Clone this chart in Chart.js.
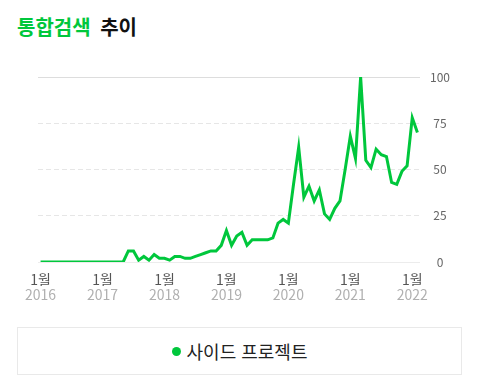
<!DOCTYPE html>
<html lang="ko">
<head>
<meta charset="utf-8">
<script src="https://cdn.jsdelivr.net/npm/chart.js@4/dist/chart.umd.min.js"></script>
<style>
  html, body { margin: 0; padding: 0; background: #fff; }
  body { width: 480px; height: 391px; position: relative; overflow: hidden; font-family: "Noto Sans CJK KR", "Noto Sans", sans-serif; }
  #title { position: absolute; left: 17px; top: 12px; font-size: 20px; font-weight: bold; line-height: 30px; white-space: nowrap; }
  #title .g { color: #00c73c; margin-right: 4px; }
  #title .k { color: #111; }
  #wrap { position: absolute; left: 0; top: 0; width: 480px; height: 310px; }
  #legend { position: absolute; left: 17px; top: 327px; width: 445px; height: 48px; box-sizing: border-box; border: 1px solid #e9e9e9; display: flex; align-items: center; justify-content: center; font-size: 18px; color: #222; }
  #legend .dot { width: 9px; height: 9px; border-radius: 50%; background: #00c73c; margin-right: 6px; margin-top: 1px; }
</style>
</head>
<body>
<div id="title"><span class="g">통합검색</span> <span class="k">추이</span></div>
<div id="wrap"><canvas id="c"></canvas></div>
<div id="legend"></div>
<script>
const categories = [
  "2016.01","2016.02","2016.03","2016.04","2016.05","2016.06","2016.07","2016.08","2016.09","2016.10","2016.11","2016.12",
  "2017.01","2017.02","2017.03","2017.04","2017.05","2017.06","2017.07","2017.08","2017.09","2017.10","2017.11","2017.12",
  "2018.01","2018.02","2018.03","2018.04","2018.05","2018.06","2018.07","2018.08","2018.09","2018.10","2018.11","2018.12",
  "2019.01","2019.02","2019.03","2019.04","2019.05","2019.06","2019.07","2019.08","2019.09","2019.10","2019.11","2019.12",
  "2020.01","2020.02","2020.03","2020.04","2020.05","2020.06","2020.07","2020.08","2020.09","2020.10","2020.11","2020.12",
  "2021.01","2021.02","2021.03","2021.04","2021.05","2021.06","2021.07","2021.08","2021.09","2021.10","2021.11","2021.12",
  "2022.01","2022.02"
];
const seriesName = "사이드 프로젝트";
const seriesValues = [
  0,0,0,0,0,0,0,0,0,0,0,0,
  0,0,0,0,0,6,6,1,3,1,4,2,
  2,1,3,3,2,2,3,4,5,6,6,9,
  17,9,14,16,9,12,12,12,12,13,21,23,
  21,42,62,35,41,33,39,26,23,29,33,50,
  68,56,100,55,51,61,58,57,43,42,49,52,
  78,70
];
const yTicks = [0, 25, 50, 75, 100];
const monthTickLabel = "1월";

const GREEN = "#00c73c";
const FONT = "'Noto Sans CJK KR', 'Noto Sans', sans-serif";

function isJan(idx) { return categories[idx].slice(5) === "01"; }

document.getElementById('legend').innerHTML = '<span class="dot"></span><span>' + seriesName + '</span>';

new Chart(document.getElementById('c'), {
  type: 'line',
  data: {
    labels: categories,
    datasets: [{
      label: seriesName,
      data: seriesValues,
      borderColor: GREEN,
      backgroundColor: GREEN,
      borderWidth: 3,
      pointRadius: 0,
      pointHoverRadius: 0,
      tension: 0,
      fill: false,
      borderJoinStyle: 'miter'
    }]
  },
  options: {
    responsive: true,
    maintainAspectRatio: false,
    animation: false,
    events: [],
    layout: { padding: { left: 38, right: 16, top: 77, bottom: 4 } },
    plugins: { legend: { display: false }, tooltip: { enabled: false }, title: { display: false } },
    scales: {
      x: {
        type: 'category',
        position: 'bottom',
        offset: true,
        grid: { display: false, drawTicks: false },
        border: { display: false },
        ticks: {
          autoSkip: false, maxRotation: 0, minRotation: 0, padding: 9,
          color: '#555', font: { family: FONT, size: 14, lineHeight: 1.2 },
          callback: (v, i) => isJan(i) ? monthTickLabel : ''
        },
        afterFit: s => { s.height = 24; }
      },
      x2: {
        type: 'category',
        position: 'bottom',
        offset: true,
        grid: { display: false, drawTicks: false },
        border: { display: false },
        ticks: {
          autoSkip: false, maxRotation: 0, minRotation: 0, padding: 0,
          color: '#b0b0b0', font: { family: FONT, size: 14, lineHeight: 1.2 },
          callback: (v, i) => isJan(i) ? categories[i].slice(0, 4) : ''
        },
        afterFit: s => { s.height = 20; }
      },
      y: {
        position: 'right',
        min: 0, max: 100,
        afterBuildTicks: s => { s.ticks = yTicks.map(v => ({ value: v })); },
        grid: {
          drawTicks: false,
          color: ctx => (ctx.tick && ctx.tick.value === 100) ? '#dddddd' : (ctx.tick && ctx.tick.value === 0 ? '#ececec' : '#e6e6e6'),
          lineWidth: 1
        },
        border: {
          display: false,
          dash: ctx => (ctx.tick && (ctx.tick.value === 0 || ctx.tick.value === 100)) ? [] : [5, 3]
        },
        ticks: {
          padding: 10, crossAlign: 'center',
          color: '#666', font: { family: FONT, size: 12 }
        },
        afterFit: s => { s.width = 44; }
      }
    }
  }
});
</script>
</body>
</html>
